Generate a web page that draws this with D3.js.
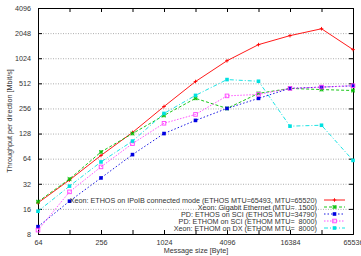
<!DOCTYPE html>
<html>
<head>
<meta charset="utf-8">
<script src="https://cdn.jsdelivr.net/npm/d3@7"></script>
<style>
  html, body { margin: 0; padding: 0; background: #fff; }
  svg { display: block; font-family: "Liberation Sans", Arial, sans-serif; }
</style>
</head>
<body>
<svg id="chart" width="361" height="256"></svg>
<script>
"use strict";

// data
const msgSizes = [64, 128, 256, 512, 1024, 2048, 4096, 8192, 16384, 32768, 65536];
const xTickLabels = [64, 256, 1024, 4096, 16384, 65536];
const yTickLabels = [8, 16, 32, 64, 128, 256, 512, 1024, 2048, 4096];

const seriesNames = [
    "Xeon: ETHOS on IPoIB connected mode (ETHOS MTU=65493, MTU=65520)",
    "Xeon: Gigabit Ethernet (MTU=  1500)",
    "PD: ETHOS on SCI (ETHOS MTU=34790)",
    "PD: ETHOM on SCI (ETHOM MTU=  8000)",
    "Xeon: ETHOM on DX (ETHOM MTU=  8000)"
];
const ethosIpoib = [18.9, 35.5, 70, 132, 270, 538, 955, 1490, 1910, 2310, 1300];
const gigabit    = [19.5, 36.5, 77, 128, 211, 338, 256, 388, 445, 431, 420];
const ethosSci   = [9.8, 19.8, 37.6, 71.6, 128, 184, 256, 338, 446, 461, 478];
const ethomSci   = [8.9, 25.6, 51, 97, 170, 217, 362, 377, 445, 462, 480];
const ethomDx    = [15, 30, 58.5, 104, 223, 367, 568, 542, 157, 161, 61];

const seriesValues = [ethosIpoib, gigabit, ethosSci, ethomSci, ethomDx];
const seriesColors = ["#ff0000", "#00c000", "#0000e0", "#ff40ff", "#00e0e0"];
const seriesDash = ["", "3,2", "1.5,2", "1.5,1.5", "4,2,1,2"];
const seriesMarker = ["plus", "xbox", "fsquare", "osquare", "fsquare"];


// setting
const margin = {left: 38, right: 8, top: 8, bottom: 22};
const plotW = 353 - margin.left, plotH = 234 - margin.top;
const fontSize = 7.2;

let svg = d3.select("#chart");
let chart = svg.append("g").attr("transform", `translate(${margin.left}, ${margin.top})`);


// scales
let scaleX = d3.scaleLog().base(2).domain([64, 65536]).range([0, plotW]);
let scaleY = d3.scaleLog().base(2).domain([8, 4096]).range([plotH, 0]);


// grid lines
chart.append("g")
.selectAll("line")
.data(yTickLabels.slice(1, -1))
.enter()
.append("line")
.attr("x1", 0).attr("x2", plotW)
.attr("y1", d => scaleY(d) + 0.5).attr("y2", d => scaleY(d) + 0.5)
.attr("stroke", "#999").attr("stroke-width", 0.8).attr("stroke-dasharray", "1,1.5");


// axes
let axisB = d3.axisBottom(scaleX).tickValues(msgSizes).tickSize(-4).tickPadding(6)
    .tickFormat(d => xTickLabels.includes(d) ? d : "");
let axisT = d3.axisTop(scaleX).tickValues(msgSizes).tickSize(-4).tickFormat("");
let axisL = d3.axisLeft(scaleY).tickValues(yTickLabels).tickSize(-4).tickPadding(7).tickFormat(d => d);
let axisR = d3.axisRight(scaleY).tickValues(yTickLabels).tickSize(-4).tickFormat("");

chart.append("g").attr("class", "axis").attr("transform", `translate(0, ${plotH})`).call(axisB);
chart.append("g").attr("class", "axis").call(axisT);
chart.append("g").attr("class", "axis").call(axisL);
chart.append("g").attr("class", "axis").attr("transform", `translate(${plotW}, 0)`).call(axisR);

chart.selectAll(".axis path").attr("stroke", "#000").attr("stroke-width", 1);
chart.selectAll(".axis line").attr("stroke", "#000");
chart.selectAll(".axis text").attr("font-size", fontSize).attr("fill", "#333")
.attr("font-family", "'Liberation Sans', Arial, sans-serif");


// axis labels
svg.append("text")
.attr("x", 196).attr("y", 253)
.attr("text-anchor", "middle").attr("font-size", fontSize).attr("fill", "#333")
.text("Message size [Byte]");

svg.append("text")
.attr("transform", `translate(12, ${margin.top + plotH / 2}) rotate(-90)`)
.attr("text-anchor", "middle").attr("font-size", fontSize).attr("fill", "#333")
.text("Throughput per direction [Mbit/s]");


// markers
function drawMarker(g, type, color, x, y) {
    const s = 1.8;
    if(type == "plus") {
        g.append("path").attr("d", `M${x - s},${y}H${x + s}M${x},${y - s}V${y + s}`)
        .attr("stroke", color).attr("stroke-width", 0.9).attr("fill", "none");
    }
    else if(type == "xbox") {
        g.append("rect").attr("x", x - s).attr("y", y - s).attr("width", 2 * s).attr("height", 2 * s)
        .attr("fill", color).attr("opacity", 0.7);
        g.append("path").attr("d", `M${x - s},${y - s}L${x + s},${y + s}M${x - s},${y + s}L${x + s},${y - s}`)
        .attr("stroke", color).attr("stroke-width", 0.7);
    }
    else if(type == "fsquare") {
        g.append("rect").attr("x", x - s).attr("y", y - s).attr("width", 2 * s).attr("height", 2 * s)
        .attr("fill", color);
    }
    else {
        g.append("rect").attr("x", x - s).attr("y", y - s).attr("width", 2 * s).attr("height", 2 * s)
        .attr("fill", "none").attr("stroke", color).attr("stroke-width", 0.9);
    }
}


// lines + points
let line = d3.line().x((d, i) => scaleX(msgSizes[i])).y(d => scaleY(d));

seriesValues.forEach((vals, k) => {
    let g = chart.append("g").attr("class", "series");
    g.append("path")
    .datum(vals)
    .attr("d", line)
    .attr("fill", "none")
    .attr("stroke", seriesColors[k])
    .attr("stroke-width", 0.9)
    .attr("stroke-dasharray", seriesDash[k]);
    vals.forEach((v, i) => drawMarker(g, seriesMarker[k], seriesColors[k], scaleX(msgSizes[i]), scaleY(v)));
});


// legend
let legend = svg.append("g").attr("class", "legend");
seriesNames.forEach((name, k) => {
    const y = 200 + k * 7;
    legend.append("text")
    .attr("x", 317).attr("y", y + 2.5)
    .attr("text-anchor", "end").attr("font-size", fontSize).attr("fill", "#333")
    .attr("xml:space", "preserve")
    .style("white-space", "pre")
    .text(name);
    legend.append("line")
    .attr("x1", 324).attr("x2", 345).attr("y1", y).attr("y2", y)
    .attr("stroke", seriesColors[k]).attr("stroke-width", 0.9)
    .attr("stroke-dasharray", seriesDash[k]);
    drawMarker(legend, seriesMarker[k], seriesColors[k], 334.5, y);
});
</script>
</body>
</html>
